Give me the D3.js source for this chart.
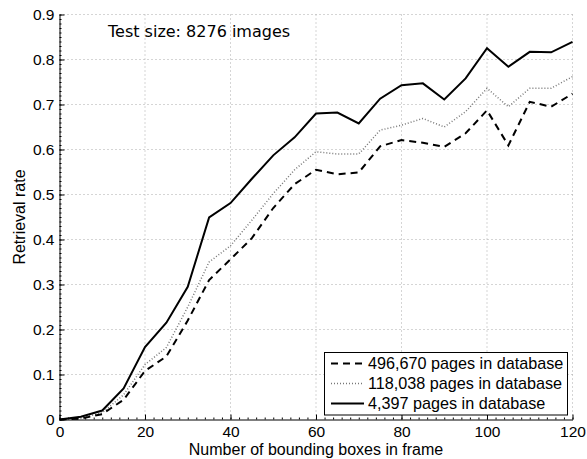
<!DOCTYPE html>
<html>
<head>
<meta charset="utf-8">
<script src="https://cdn.jsdelivr.net/npm/d3@7"></script>
<style>
  body { margin: 0; background: #fff; }
  svg { display: block; }
  text { font-family: "Liberation Sans", Arial, Helvetica, sans-serif; fill: #000; }
</style>
</head>
<body>
<svg width="587" height="459"></svg>
<script>
// number of bounding boxes (x values)
var boxes = [0, 5, 10, 15, 20, 25, 30, 35, 40, 45, 50, 55, 60, 65, 70, 75, 80, 85, 90, 95, 100, 105, 110, 115, 120];

// retrieval rate per database size
var rate496k = [0, 0.002, 0.012, 0.044, 0.108, 0.14, 0.22, 0.31, 0.356, 0.403, 0.47, 0.523, 0.555, 0.545, 0.549, 0.607, 0.621, 0.615, 0.606, 0.636, 0.687, 0.609, 0.706, 0.695, 0.724];
var rate118k = [0, 0.003, 0.015, 0.055, 0.122, 0.16, 0.25, 0.35, 0.386, 0.443, 0.502, 0.555, 0.595, 0.59, 0.59, 0.643, 0.654, 0.669, 0.65, 0.684, 0.736, 0.695, 0.736, 0.736, 0.762];
var rate4k = [0, 0.006, 0.02, 0.069, 0.161, 0.215, 0.295, 0.449, 0.481, 0.535, 0.587, 0.627, 0.68, 0.682, 0.658, 0.713, 0.743, 0.747, 0.711, 0.758, 0.825, 0.784, 0.817, 0.816, 0.839];

var seriesNames = ["496,670 pages in database", "118,038 pages in database", "4,397 pages in database"];

var xTicks = [0, 20, 40, 60, 80, 100, 120];
var yTicks = [0, 0.1, 0.2, 0.3, 0.4, 0.5, 0.6, 0.7, 0.8, 0.9];

var svg = d3.select('svg');

var scaleX = d3.scaleLinear().domain([0, 120]).range([59.5, 572.5]);
var scaleY = d3.scaleLinear().domain([0, 0.9]).range([419.5, 14.5]);

// dotted grid
var grid = svg.append('g').attr('stroke', '#aaa').attr('stroke-dasharray', '1,3').attr('stroke-width', 1);
grid.selectAll('.vgrid')
    .data(xTicks.slice(1))
    .enter()
    .append('line')
    .attr('x1', function(d){ return scaleX(d); })
    .attr('x2', function(d){ return scaleX(d); })
    .attr('y1', scaleY(0))
    .attr('y2', scaleY(0.9));
grid.selectAll('.hgrid')
    .data(yTicks.slice(1))
    .enter()
    .append('line')
    .attr('x1', scaleX(0))
    .attr('x2', scaleX(120))
    .attr('y1', function(d){ return scaleY(d); })
    .attr('y2', function(d){ return scaleY(d); });

// minor ticks
svg.append('g')
    .attr('transform', 'translate(0,419.5)')
    .call(d3.axisBottom(scaleX).tickValues(d3.range(0, 121, 2)).tickSize(-2).tickFormat(''))
    .call(function(g){ g.select('.domain').remove(); });
svg.append('g')
    .attr('transform', 'translate(59.5,0)')
    .call(d3.axisLeft(scaleY).tickValues(d3.range(0, 91, 1).map(function(d){ return d / 100; })).tickSize(-2).tickFormat(''))
    .call(function(g){ g.select('.domain').remove(); });

// main axes
var xAxis = svg.append('g')
    .attr('transform', 'translate(0,419.5)')
    .call(d3.axisBottom(scaleX).tickValues(xTicks).tickSizeInner(-5).tickSizeOuter(0).tickPadding(6));
var yAxis = svg.append('g')
    .attr('transform', 'translate(59.5,0)')
    .call(d3.axisLeft(scaleY).tickValues(yTicks).tickSizeInner(-5).tickSizeOuter(0).tickPadding(5)
        .tickFormat(function(d){ return d === 0 ? '0' : d3.format('.1f')(d); }));
svg.selectAll('.tick text').style('font-size', '15.5px').style('font-family', '"Liberation Sans", Arial, sans-serif');

// lines
var line = d3.line()
    .x(function(d, i){ return scaleX(boxes[i]); })
    .y(function(d){ return scaleY(d); });

svg.append('path').datum(rate118k)
    .attr('fill', 'none').attr('stroke', '#777').attr('stroke-width', 1.5).attr('stroke-dasharray', '1,2')
    .attr('d', line);
svg.append('path').datum(rate496k)
    .attr('fill', 'none').attr('stroke', '#000').attr('stroke-width', 2).attr('stroke-dasharray', '7,5')
    .attr('d', line);
svg.append('path').datum(rate4k)
    .attr('fill', 'none').attr('stroke', '#000').attr('stroke-width', 2)
    .attr('d', line);

// labels
svg.append('text')
    .text('Number of bounding boxes in frame')
    .attr('x', 316).attr('y', 455)
    .style('text-anchor', 'middle').style('font-size', '16px');

svg.append('text')
    .text('Retrieval rate')
    .attr('transform', 'translate(25,217)rotate(270)')
    .style('text-anchor', 'middle').style('font-size', '16px');

svg.append('text')
    .text('Test size: 8276 images')
    .attr('x', 108).attr('y', 37)
    .style('font-family', '"DejaVu Sans", sans-serif').style('font-size', '16px');

// legend
var legend = svg.append('g');
legend.append('rect')
    .attr('x', 324.5).attr('y', 352.5).attr('width', 243).attr('height', 62.5)
    .attr('fill', '#fff').attr('stroke', '#000').attr('stroke-width', 1);

var legendStyles = [
    { stroke: '#000', width: 2, dash: '7,5' },
    { stroke: '#777', width: 1.5, dash: '1,2' },
    { stroke: '#000', width: 2, dash: null }
];

legend.selectAll('.legLine')
    .data(seriesNames)
    .enter()
    .append('line')
    .attr('x1', 331).attr('x2', 364)
    .attr('y1', function(d, i){ return 363.5 + i * 20; })
    .attr('y2', function(d, i){ return 363.5 + i * 20; })
    .attr('stroke', function(d, i){ return legendStyles[i].stroke; })
    .attr('stroke-width', function(d, i){ return legendStyles[i].width; })
    .attr('stroke-dasharray', function(d, i){ return legendStyles[i].dash; });

legend.selectAll('.legText')
    .data(seriesNames)
    .enter()
    .append('text')
    .text(function(d){ return d; })
    .attr('x', 368)
    .attr('y', function(d, i){ return 368.5 + i * 20; })
    .style('font-size', '16.2px');
</script>
</body>
</html>
